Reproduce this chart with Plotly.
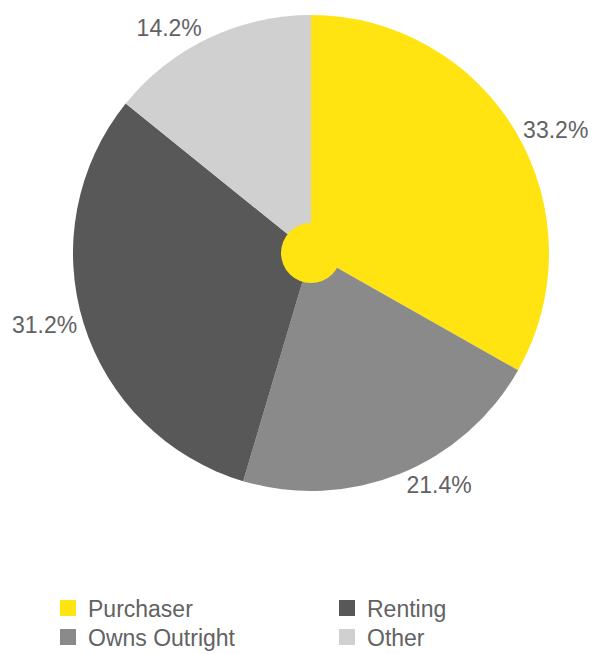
import plotly.graph_objects as go

# Household tenure shares (percent), in clockwise slice order
categories = ["Purchaser", "Owns Outright", "Renting", "Other"]
shares = [33.2, 21.4, 31.2, 14.2]
colors = {
    "Purchaser": "#FFE412",
    "Owns Outright": "#8A8A8A",
    "Renting": "#585858",
    "Other": "#D0D0D0",
}
# Legend layout: two columns, two rows
legend_order = ["Purchaser", "Renting", "Owns Outright", "Other"]

TEXT = "#626264"
FONT = "Liberation Sans, Arial, sans-serif"
FS = 23

fig = go.Figure()

fig.add_trace(go.Pie(
    labels=categories,
    values=shares,
    marker=dict(colors=[colors[c] for c in categories], line=dict(width=0)),
    sort=False,
    direction="clockwise",
    rotation=0,
    textposition="outside",
    texttemplate="%{value:.1f}%",
    textfont=dict(size=FS, color=TEXT, family=FONT),
    showlegend=False,
    hoverinfo="label+percent",
    domain=dict(x=[0, 1], y=[0, 1]),
))

# One legend box per entry so the swatches sit in a 2x2 grid
col_x = [48, 327]
row_y = [608, 637]
legend_boxes = {}
for i, name in enumerate(legend_order):
    key = "legend" if i == 0 else f"legend{i + 1}"
    fig.add_trace(go.Scatter(
        x=[None], y=[None], mode="markers", name=name,
        marker=dict(symbol="square", size=16, color=colors[name]),
        legend=key, hoverinfo="skip",
    ))
    legend_boxes[key] = dict(
        xref="container", yref="container",
        x=col_x[i % 2] / 594, y=1 - row_y[i // 2] / 654,
        xanchor="left", yanchor="middle",
        font=dict(size=FS, color=TEXT, family=FONT),
        itemwidth=30, bgcolor="rgba(0,0,0,0)",
    )

# Yellow hub at the centre of the pie
hub_r = 30 / 476
fig.add_shape(type="circle", xref="paper", yref="paper",
              x0=0.5 - hub_r, x1=0.5 + hub_r, y0=0.5 - hub_r, y1=0.5 + hub_r,
              fillcolor=colors["Purchaser"], line=dict(width=0), layer="above")

fig.update_layout(
    width=594, height=654,
    margin=dict(l=73, r=45, t=15, b=163, autoexpand=False),
    paper_bgcolor="white", plot_bgcolor="white",
    xaxis=dict(visible=False, range=[0, 1], fixedrange=True),
    yaxis=dict(visible=False, range=[0, 1], fixedrange=True),
    font=dict(family=FONT, color=TEXT),
    **legend_boxes,
)

fig.write_html("out.html")
